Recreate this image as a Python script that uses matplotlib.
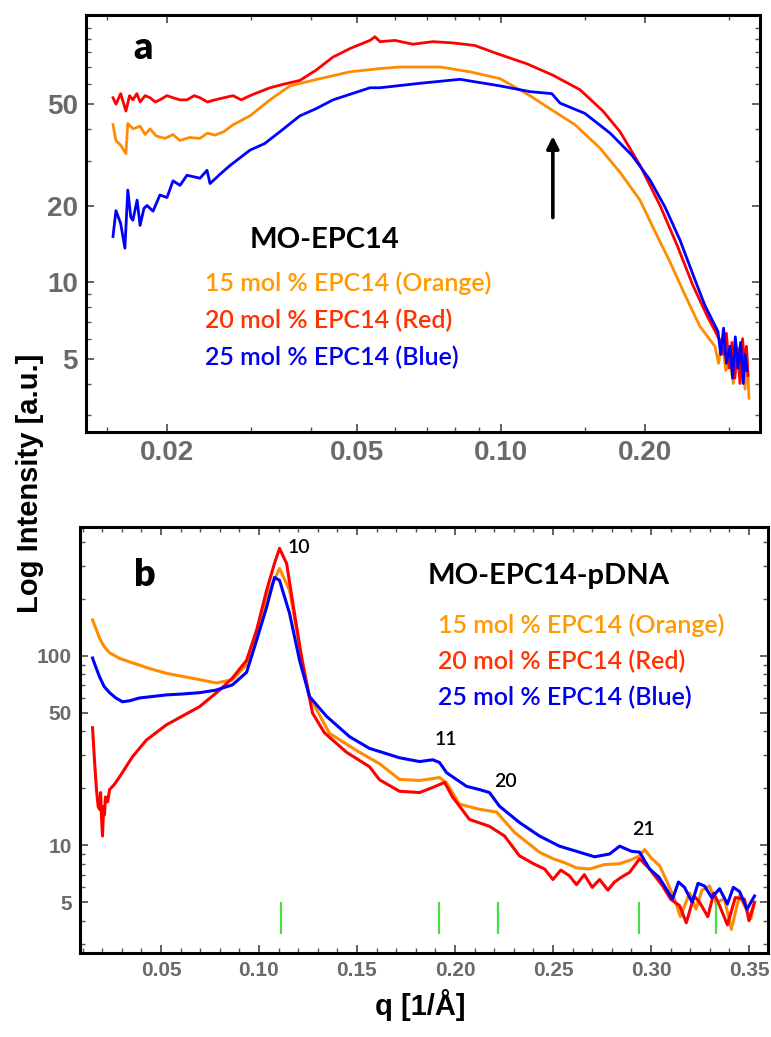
import matplotlib
matplotlib.use("Agg")
import matplotlib.pyplot as plt
from matplotlib import font_manager
from matplotlib.ticker import FixedLocator, FixedFormatter, NullFormatter

# ---- panel a: MO-EPC14 (log-log) ----
RED_A_Q = [0.01542, 0.01564, 0.01600, 0.01641, 0.01670, 0.01697, 0.01730, 0.01757, 0.01800, 0.01843,
           0.01890, 0.01933, 0.02000, 0.02059, 0.02130, 0.02202, 0.02280, 0.02345, 0.02430, 0.02520,
           0.02630, 0.02749, 0.02860, 0.02983, 0.03130, 0.03285, 0.03520, 0.03794, 0.04100, 0.04451,
           0.04850, 0.05317, 0.05446, 0.05579, 0.06000, 0.06538, 0.07200, 0.07928, 0.08815, 0.09806,
           0.1133, 0.1283, 0.1462, 0.1633, 0.1773, 0.1952, 0.2150, 0.2333, 0.2520, 0.2695,
           0.2870, 0.2920, 0.2960, 0.3000, 0.3040, 0.3084, 0.3120, 0.3160, 0.3200, 0.3237,
           0.3260, 0.3285]
RED_A_I = [53, 50, 55, 47, 54, 52, 55, 51, 54, 53,
           51, 52, 54, 53, 52, 52, 54, 53, 51, 52,
           53, 54, 52, 54, 56, 58, 60, 62, 68, 76.6,
           83, 89, 92, 88, 89, 86, 88, 87, 85, 79,
           72, 65, 57, 47, 39, 28.8, 20, 14, 9.7, 7.4,
           5.9, 5.2, 6.3, 4.6, 5.8, 4.2, 5.5, 4.0, 6.0, 4.5,
           5.6, 4.3]

ORG_A_Q = [0.01542, 0.01564, 0.01600, 0.01641, 0.01656, 0.01700, 0.01757, 0.01800, 0.01843, 0.01900,
           0.01981, 0.02060, 0.02127, 0.02230, 0.02345, 0.02430, 0.02520, 0.02630, 0.02749, 0.02983,
           0.03285, 0.03615, 0.04179, 0.04829, 0.05579, 0.06142, 0.07448, 0.08606, 0.09949, 0.1149,
           0.1265, 0.1428, 0.1610, 0.1773, 0.1952, 0.2120, 0.2256, 0.2425, 0.2606, 0.2801,
           0.2850, 0.2900, 0.2950, 0.3011, 0.3060, 0.3110, 0.3160, 0.3200, 0.3237, 0.3270,
           0.3300]
ORG_A_I = [41.6, 36, 34.5, 32, 42, 40, 41, 38, 40, 37.5,
           36.7, 38, 36, 37, 36.7, 38.5, 37.8, 39, 41.5, 45,
           52, 59, 63, 67, 69, 70, 70, 67, 63, 54,
           48, 41.5, 33.6, 27, 21, 15.2, 12, 8.9, 6.7, 5.6,
           4.8, 5.9, 4.5, 4.9, 4.0, 5.6, 4.4, 5.3, 3.8, 5.0,
           3.5]

BLU_A_Q = [0.01542, 0.01564, 0.01600, 0.01633, 0.01656, 0.01680, 0.01697, 0.01732, 0.01757, 0.01790,
           0.01817, 0.01870, 0.01933, 0.02000, 0.02059, 0.02130, 0.02202, 0.02345, 0.02425, 0.02461,
           0.02580, 0.02708, 0.02983, 0.03200, 0.03447, 0.03794, 0.04100, 0.04451, 0.05317, 0.05579,
           0.06763, 0.08201, 0.09949, 0.1149, 0.1277, 0.1328, 0.1497, 0.1690, 0.1878, 0.2049,
           0.2203, 0.2368, 0.2545, 0.2669, 0.2842, 0.2880, 0.2920, 0.2960, 0.3011, 0.3050,
           0.3090, 0.3130, 0.3170, 0.3210, 0.3237, 0.3270]
BLU_A_I = [15.1, 19.1, 17, 13.6, 23, 18, 17.5, 21, 16.7, 19.5,
           20, 19, 22, 21.5, 25, 24, 26.3, 25.6, 27.5, 24.4,
           26.5, 28.7, 33, 35, 39, 45, 48, 52, 58, 58,
           60.4, 62.6, 59, 56, 55, 50.5, 46, 38.5, 31.5, 25.2,
           19.7, 14.6, 10.2, 8.1, 6.4, 5.2, 6.6, 4.8, 5.6, 4.2,
           6.1, 4.6, 5.8, 4.0, 5.2, 4.5]

A_YTICKS = [5, 10, 20, 50]
A_XTICKS = [0.02, 0.05, 0.10, 0.20]
A_XTICKLABELS = ["0.02", "0.05", "0.10", "0.20"]
ARROW_Q = 0.1283
ARROW_I = (17.5, 38.4)

# ---- panel b: MO-EPC14-pDNA (semi-log) ----
RED_B_Q = [0.0151, 0.0161, 0.0171, 0.0180, 0.0187, 0.0192, 0.0197, 0.0202, 0.0207, 0.0212,
           0.0217, 0.0228, 0.0238, 0.0263, 0.0289, 0.0355, 0.0426, 0.0528, 0.0697, 0.0799,
           0.0865, 0.0937, 0.0988, 0.1039, 0.1079, 0.1105, 0.1141, 0.1181, 0.1222, 0.1273,
           0.1334, 0.1447, 0.1564, 0.1615, 0.1717, 0.1819, 0.1886, 0.1947, 0.1988, 0.2074,
           0.2176, 0.2253, 0.2329, 0.2400, 0.2457, 0.2500, 0.2540, 0.2584, 0.2620, 0.2660,
           0.2700, 0.2738, 0.2780, 0.2814, 0.2850, 0.2891, 0.2942, 0.2993, 0.3059, 0.3100,
           0.3146, 0.3180, 0.3220, 0.3248, 0.3290, 0.3320, 0.3350, 0.3390, 0.3430, 0.3477,
           0.3500, 0.3528]
RED_B_I = [41.8, 28, 19.7, 16, 15.5, 19, 14, 11.2, 16, 14.5,
           18, 17, 19.7, 21, 23, 29.4, 36, 43.3, 54, 66,
           76.6, 95, 137, 222, 308, 370, 308, 168, 92, 50,
           39.3, 31, 26, 22.2, 19.3, 19, 20.2, 21.5, 18, 13.7,
           12.6, 11.2, 8.8, 8.0, 7.5, 6.6, 7.4, 6.9, 6.2, 7.0,
           6.0, 6.6, 5.8, 6.4, 6.8, 7.2, 8.5, 7.5, 6.1, 5.2,
           4.8, 3.9, 5.4, 5.0, 4.2, 5.6, 4.8, 3.8, 5.3, 5.2,
           4.0, 5.0]

ORG_B_Q = [0.0151, 0.0170, 0.0187, 0.0210, 0.0238, 0.0290, 0.0355, 0.0440, 0.0528, 0.0610,
           0.0697, 0.0783, 0.0865, 0.0937, 0.1003, 0.1054, 0.1105, 0.1156, 0.1207, 0.1258,
           0.1360, 0.1513, 0.1615, 0.1717, 0.1819, 0.1921, 0.1957, 0.2023, 0.2125, 0.2212,
           0.2304, 0.2431, 0.2500, 0.2559, 0.2620, 0.2687, 0.2760, 0.2840, 0.2900, 0.2942,
           0.2967, 0.3000, 0.3044, 0.3080, 0.3120, 0.3150, 0.3197, 0.3230, 0.3260, 0.3299,
           0.3330, 0.3375, 0.3410, 0.3450, 0.3477, 0.3510, 0.3528]
ORG_B_I = [155, 138, 124, 112, 104, 97, 92, 86, 81, 78,
           75, 72, 75, 90, 142, 222, 290, 222, 112, 61,
           39, 31, 27, 22.3, 22, 22.8, 21.4, 16.5, 15.5, 15,
           11.7, 9.2, 8.5, 8.1, 7.6, 7.5, 7.9, 8.0, 8.4, 8.8,
           9.5, 8.6, 7.8, 6.5, 5.2, 4.2, 5.6, 4.6, 5.8, 6.1,
           5.0, 5.2, 3.6, 5.4, 4.8, 4.1, 5.0]

BLU_B_Q = [0.0151, 0.0170, 0.0187, 0.0210, 0.0238, 0.0270, 0.0304, 0.0340, 0.0390, 0.0450,
           0.0528, 0.0610, 0.0697, 0.0780, 0.0865, 0.0937, 0.0988, 0.1039, 0.1079, 0.1105,
           0.1156, 0.1207, 0.1258, 0.1345, 0.1462, 0.1564, 0.1615, 0.1717, 0.1819, 0.1886,
           0.1921, 0.1957, 0.2059, 0.2125, 0.2176, 0.2227, 0.2329, 0.2431, 0.2533, 0.2635,
           0.2712, 0.2789, 0.2840, 0.2901, 0.2942, 0.2993, 0.3040, 0.3069, 0.3110, 0.3140,
           0.3171, 0.3210, 0.3240, 0.3273, 0.3310, 0.3350, 0.3390, 0.3420, 0.3452, 0.3490,
           0.3528]
BLU_B_I = [97.6, 86, 77.5, 69, 64, 60, 57.3, 58, 60, 61,
           62.3, 63, 64, 66, 70.4, 82, 121, 181, 260, 251,
           168, 95, 61, 48, 37.5, 32.5, 31.3, 29, 27.7, 28.3,
           27.4, 24.2, 20.5, 19.7, 19, 16.1, 13.2, 11.2, 9.9, 9.2,
           8.7, 9.0, 9.9, 9.3, 9.2, 7.5, 6.8, 6.1, 5.2, 6.4,
           6.0, 5.0, 6.3, 6.1, 5.3, 5.9, 4.9, 6.0, 5.7, 4.6,
           5.4]

B_YTICKS = [5, 10, 50, 100]
B_XTICKS = [0.05, 0.10, 0.15, 0.20, 0.25, 0.30, 0.35]
B_XTICKLABELS = ["0.05", "0.10", "0.15", "0.20", "0.25", "0.30", "0.35"]
HEX_Q = [0.111, 0.192, 0.222, 0.294, 0.333]
HEX_I = (3.4, 5.0)
PEAK_LABELS = ["10", "11", "20", "21"]
PEAK_POS = [(0.1146, 374), (0.1896, 36.1), (0.2202, 21.7), (0.2906, 12.1)]

SERIES_TEXT = ["15 mol % EPC14 (Orange)", "20 mol % EPC14 (Red)", "25 mol % EPC14 (Blue)"]
TEXT_COLORS = ["#ff9a00", "#ff3300", "#0000ee"]
LINE_COLORS = {"orange": "#ff8c00", "red": "#ff0000", "blue": "#0000ff"}

W, H = 771, 1037


def pick_font(*names):
    avail = {f.name for f in font_manager.fontManager.ttflist}
    for n in names:
        if n in avail:
            return n
    return "DejaVu Sans"


TICK_FONT = pick_font("Liberation Sans", "Arial")
TEXT_FONT = pick_font("Lato", "Open Sans")


def px(x, y):
    return x / W, 1 - y / H


def style_axes(ax, labelsize):
    for sp in ax.spines.values():
        sp.set_linewidth(2.2)
        sp.set_color("black")
    ax.tick_params(which="both", direction="in", top=True, right=True, color="#555555")
    ax.tick_params(which="major", length=6, width=1.3, labelsize=labelsize,
                   labelcolor="#6a6a6a", pad=6)
    ax.tick_params(which="minor", length=3.5, width=1.0)
    for lab in ax.get_xticklabels() + ax.get_yticklabels():
        lab.set_fontfamily(TICK_FONT)
        lab.set_fontweight("bold")


fig = plt.figure(figsize=(W / 100, H / 100), dpi=100)

# panel a
ax1 = fig.add_axes([86 / W, 1 - 432 / H, 674 / W, 417 / H])
ax1.set_xscale("log")
ax1.set_yscale("log")
ax1.plot(ORG_A_Q, ORG_A_I, color=LINE_COLORS["orange"], lw=2.0)
ax1.plot(RED_A_Q, RED_A_I, color=LINE_COLORS["red"], lw=2.0)
ax1.plot(BLU_A_Q, BLU_A_I, color=LINE_COLORS["blue"], lw=2.0)
ax1.set_xlim(0.01354, 0.348)
ax1.set_ylim(2.58, 112)
ax1.xaxis.set_major_locator(FixedLocator(A_XTICKS))
ax1.xaxis.set_major_formatter(FixedFormatter(A_XTICKLABELS))
ax1.xaxis.set_minor_locator(FixedLocator([0.015, 0.03, 0.04, 0.06, 0.07, 0.08, 0.09, 0.15, 0.3]))
ax1.xaxis.set_minor_formatter(NullFormatter())
ax1.yaxis.set_major_locator(FixedLocator(A_YTICKS))
ax1.yaxis.set_major_formatter(FixedFormatter([str(v) for v in A_YTICKS]))
ax1.yaxis.set_minor_locator(FixedLocator([3, 4, 6, 7, 8, 9, 30, 40, 60, 70, 80, 90, 100]))
ax1.yaxis.set_minor_formatter(NullFormatter())
style_axes(ax1, 20)
ax1.annotate("", xy=(ARROW_Q, ARROW_I[1]), xytext=(ARROW_Q, ARROW_I[0]),
             arrowprops=dict(arrowstyle="-|>", color="black", lw=2.6, mutation_scale=18))

# panel b
ax2 = fig.add_axes([80 / W, 1 - 953 / H, 688 / W, 426 / H])
ax2.set_yscale("log")
ax2.plot(ORG_B_Q, ORG_B_I, color=LINE_COLORS["orange"], lw=2.2)
ax2.plot(RED_B_Q, RED_B_I, color=LINE_COLORS["red"], lw=2.2)
ax2.plot(BLU_B_Q, BLU_B_I, color=LINE_COLORS["blue"], lw=2.2)
ax2.vlines(HEX_Q, HEX_I[0], HEX_I[1], color="#44e044", lw=1.6)
ax2.set_xlim(0.0087, 0.3597)
ax2.set_ylim(2.7, 480)
ax2.xaxis.set_major_locator(FixedLocator(B_XTICKS))
ax2.xaxis.set_major_formatter(FixedFormatter(B_XTICKLABELS))
ax2.xaxis.set_minor_locator(FixedLocator([i / 100 for i in range(1, 36)]))
ax2.xaxis.set_minor_formatter(NullFormatter())
ax2.yaxis.set_major_locator(FixedLocator(B_YTICKS))
ax2.yaxis.set_major_formatter(FixedFormatter([str(v) for v in B_YTICKS]))
ax2.yaxis.set_minor_locator(FixedLocator([3, 4, 6, 7, 8, 9, 20, 30, 40, 60, 70, 80, 90, 200, 300, 400]))
ax2.yaxis.set_minor_formatter(NullFormatter())
style_axes(ax2, 15)
for lab, (q, i) in zip(PEAK_LABELS, PEAK_POS):
    ax2.text(q, i, lab, fontsize=14, family=TEXT_FONT, fontweight="semibold", color="black",
             ha="left", va="center")

# panel letters, titles and series notes
fig.text(*px(143, 48), "a", fontsize=27, family=TEXT_FONT, fontweight="heavy", ha="center", va="center")
fig.text(*px(145, 575), "b", fontsize=27, family=TEXT_FONT, fontweight="heavy", ha="center", va="center")
fig.text(*px(250, 240), "MO-EPC14", fontsize=21, family=TEXT_FONT, fontweight="bold", ha="left", va="center")
fig.text(*px(428, 576), "MO-EPC14-pDNA", fontsize=21, family=TEXT_FONT, fontweight="bold", ha="left", va="center")
for k, (txt, col) in enumerate(zip(SERIES_TEXT, TEXT_COLORS)):
    fig.text(*px(205, 283 + 37 * k), txt, fontsize=18, family=TEXT_FONT, fontweight="semibold",
             color=col, ha="left", va="center")
    fig.text(*px(438, 625 + 36 * k), txt, fontsize=18, family=TEXT_FONT, fontweight="semibold",
             color=col, ha="left", va="center")

fig.text(*px(30, 483), "Log Intensity [a.u.]", fontsize=21, family=TICK_FONT, fontweight="bold",
         rotation=90, ha="center", va="center")
fig.text(*px(420, 1005), "q [1/Å]", fontsize=21, family=TICK_FONT, fontweight="bold",
         ha="center", va="center")

fig.savefig("out.png", dpi=100)
